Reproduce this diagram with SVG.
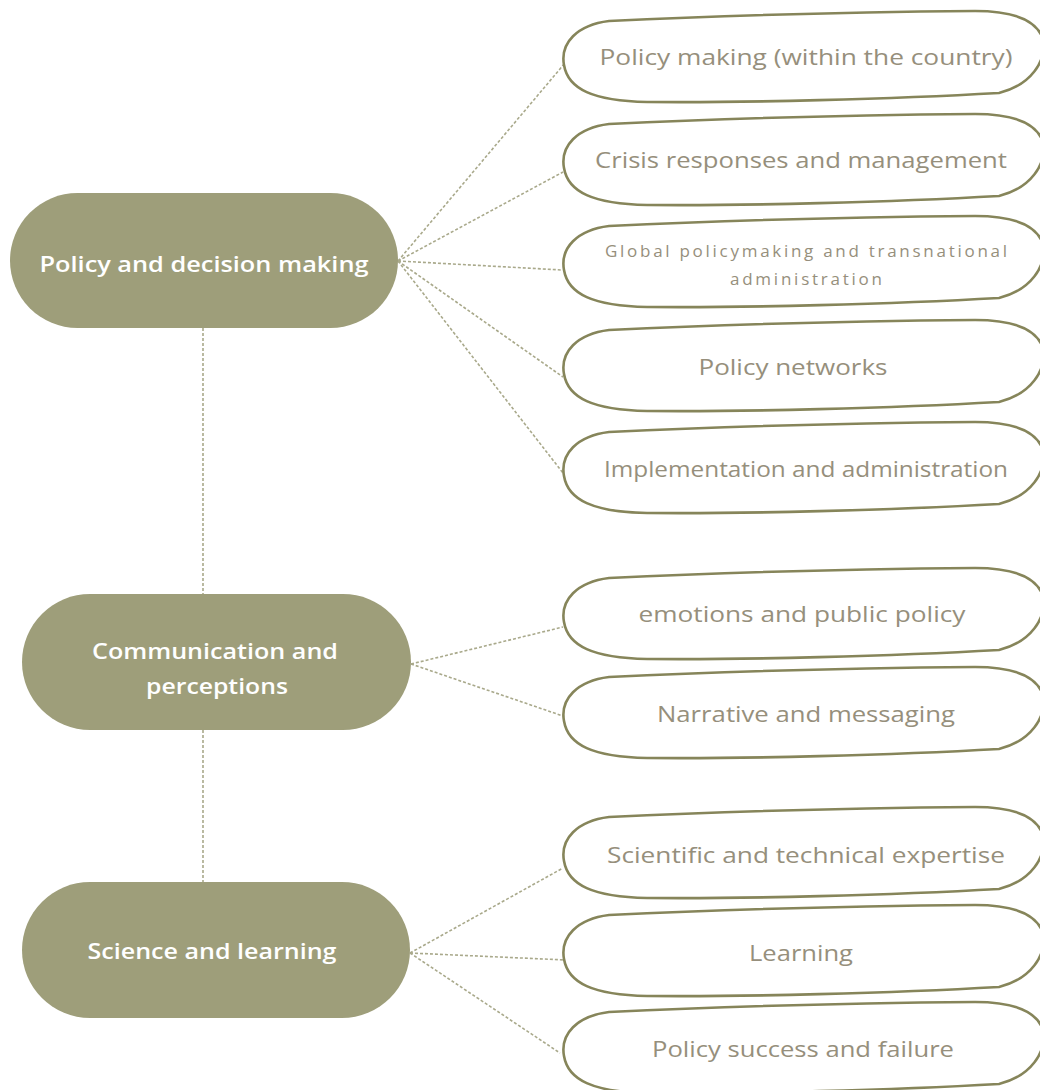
<svg xmlns="http://www.w3.org/2000/svg" xmlns:xlink="http://www.w3.org/1999/xlink" width="1040" height="1090" viewBox="0 0 1040 1090">
<style>
.main rect{fill:#9e9e7a}
.main text{font-family:"Open Sans","Liberation Sans",sans-serif;font-weight:600;font-size:22px;fill:#ffffff;text-anchor:middle}
.leaf use{fill:#ffffff;stroke:#86855a;stroke-width:2.6;stroke-linejoin:round}
.leaf text{font-family:"Open Sans","Liberation Sans",sans-serif;font-size:22px;fill:#968f7c;text-anchor:middle}
.leaf text.sm{font-size:17px}
#connectors line{stroke:#a9a98b;stroke-width:1.6;stroke-dasharray:3 2;fill:none}
</style>
<defs>
<path id="leafShape" d="M 1,8 C -3,-14 14,-32 46,-36 C 150,-41 300,-45 412,-46 C 452,-46 474,-36 480,-18 C 484,4 468,28 436,36 C 330,42 180,46 84,45 C 30,44 5,32 1,8 Z"/>
</defs>
<rect width="1040" height="1090" fill="#ffffff"/>
<g id="connectors">
<line x1="203" y1="328" x2="203" y2="594"/>
<line x1="203" y1="730" x2="203" y2="882"/>
<line x1="398" y1="261" x2="565" y2="63"/>
<line x1="398" y1="261" x2="563" y2="172"/>
<line x1="398" y1="261" x2="562" y2="270"/>
<line x1="398" y1="261" x2="563" y2="377"/>
<line x1="398" y1="261" x2="563" y2="473"/>
<line x1="411" y1="664" x2="563" y2="627"/>
<line x1="411" y1="664" x2="563" y2="716"/>
<line x1="410" y1="953" x2="563" y2="868"/>
<line x1="410" y1="953" x2="566" y2="960"/>
<line x1="410" y1="953" x2="560" y2="1053"/>
</g>
<g id="node-policy-decision" class="main">
<rect x="10" y="193" width="388" height="135" rx="67.5"/>
<text x="204" y="272" textLength="329" lengthAdjust="spacingAndGlyphs">Policy and decision making</text>
</g>
<g id="node-communication" class="main">
<rect x="22" y="594" width="389" height="136" rx="68"/>
<text x="215" y="659" textLength="246" lengthAdjust="spacingAndGlyphs">Communication and</text>
<text x="217" y="694" textLength="142" lengthAdjust="spacingAndGlyphs">perceptions</text>
</g>
<g id="node-science" class="main">
<rect x="22" y="882" width="388" height="136" rx="68"/>
<text x="212" y="959" textLength="249" lengthAdjust="spacingAndGlyphs">Science and learning</text>
</g>
<g id="leaf-policy-making" class="leaf">
<use xlink:href="#leafShape" x="563" y="57"/>
<text x="806" y="65" textLength="413" lengthAdjust="spacingAndGlyphs">Policy making (within the country)</text>
</g>
<g id="leaf-crisis" class="leaf">
<use xlink:href="#leafShape" x="563" y="160"/>
<text x="801" y="168" textLength="412" lengthAdjust="spacingAndGlyphs">Crisis responses and management</text>
</g>
<g id="leaf-global" class="leaf">
<use xlink:href="#leafShape" x="563" y="262"/>
<text class="sm" x="806" y="257" textLength="402">Global policymaking and transnational</text>
<text class="sm" x="806" y="285" textLength="152">administration</text>
</g>
<g id="leaf-networks" class="leaf">
<use xlink:href="#leafShape" x="563" y="366"/>
<text x="793" y="375" textLength="189" lengthAdjust="spacingAndGlyphs">Policy networks</text>
</g>
<g id="leaf-implementation" class="leaf">
<use xlink:href="#leafShape" x="563" y="468"/>
<text x="806" y="477" textLength="404" lengthAdjust="spacingAndGlyphs">Implementation and administration</text>
</g>
<g id="leaf-emotions" class="leaf">
<use xlink:href="#leafShape" x="563" y="614"/>
<text x="802" y="622" textLength="327" lengthAdjust="spacingAndGlyphs">emotions and public policy</text>
</g>
<g id="leaf-narrative" class="leaf">
<use xlink:href="#leafShape" x="563" y="713"/>
<text x="806" y="722" textLength="298" lengthAdjust="spacingAndGlyphs">Narrative and messaging</text>
</g>
<g id="leaf-scientific" class="leaf">
<use xlink:href="#leafShape" x="563" y="853"/>
<text x="806" y="863" textLength="398" lengthAdjust="spacingAndGlyphs">Scientific and technical expertise</text>
</g>
<g id="leaf-learning" class="leaf">
<use xlink:href="#leafShape" x="563" y="951"/>
<text x="801" y="961" textLength="104" lengthAdjust="spacingAndGlyphs">Learning</text>
</g>
<g id="leaf-success" class="leaf">
<use xlink:href="#leafShape" x="563" y="1048"/>
<text x="803" y="1057" textLength="302" lengthAdjust="spacingAndGlyphs">Policy success and failure</text>
</g>
</svg>
